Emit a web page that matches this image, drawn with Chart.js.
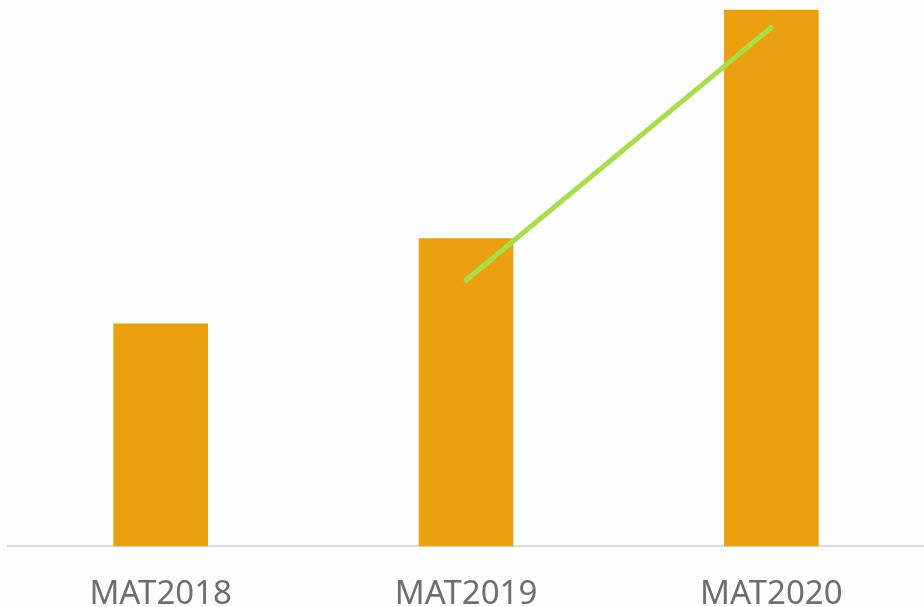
<!DOCTYPE html>
<html lang="en">
    <head>
        <meta charset="UTF-8">
        <title>MAT</title>
        <script src="https://cdn.jsdelivr.net/npm/chart.js@4"></script>
        <style>
            html, body { margin: 0; padding: 0; background: #fdfdfd; overflow: hidden; }
            #wrap { position: relative; width: 924px; height: 634px; }
        </style>
    </head>

    <script>
        const categories = ["MAT2018", "MAT2019", "MAT2020"];
        // bar values (arbitrary units)
        const sales = [40.8, 56.4, 98.2];
        // growth line, no point for the first year
        const growth = [null, 38.0, 74.1];
    </script>

    <body>
        <div id="wrap">
            <canvas id="chart"></canvas>
        </div>

        <script>
            const ctx = document.getElementById('chart');
            const chart = new Chart(ctx, {
                data: {
                    labels: categories,
                    datasets: [
                        {
                            type: 'line',
                            label: 'growth',
                            data: growth,
                            yAxisID: 'y1',
                            borderColor: '#a8df48',
                            borderWidth: 5,
                            borderCapStyle: 'round',
                            pointRadius: 0,
                            fill: false,
                            order: 0
                        },
                        {
                            type: 'bar',
                            label: 'sales',
                            data: sales,
                            yAxisID: 'y',
                            backgroundColor: '#eba00f',
                            categoryPercentage: 1,
                            barPercentage: 0.31,
                            order: 1
                        }
                    ]
                },
                options: {
                    responsive: true,
                    maintainAspectRatio: false,
                    animation: false,
                    layout: { padding: { left: 8, right: 0, top: 0, bottom: 0 } },
                    plugins: {
                        legend: { display: false },
                        tooltip: { enabled: false }
                    },
                    scales: {
                        x: {
                            grid: { display: false },
                            border: { display: true, color: '#dcdcdc', width: 2 },
                            ticks: {
                                color: '#6e6e6e',
                                padding: 20,
                                maxRotation: 0,
                                font: { family: 'Noto Sans', size: 33 }
                            }
                        },
                        y: {
                            display: false,
                            min: 0,
                            max: 100
                        },
                        y1: {
                            display: false,
                            position: 'right',
                            min: 0,
                            max: 78
                        }
                    }
                }
            });
        </script>
    </body>
</html>
